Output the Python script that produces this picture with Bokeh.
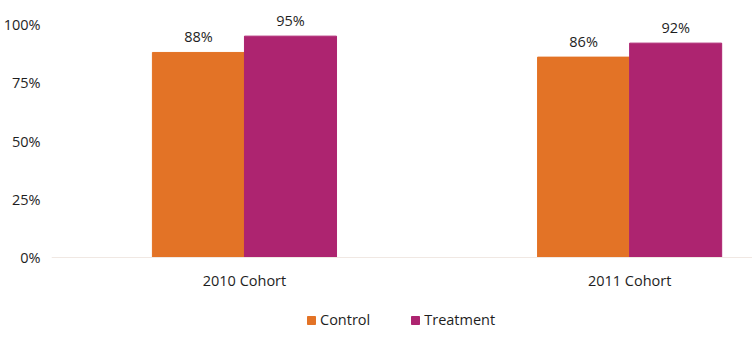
from bokeh.plotting import figure
from bokeh.models import ColumnDataSource, Range1d, FixedTicker, Legend, LegendItem, LabelSet, Span
from bokeh.core.properties import value
from bokeh.transform import dodge
from bokeh.embed import file_html
from bokeh.resources import INLINE

cohorts = ["2010 Cohort", "2011 Cohort"]
control = [88, 86]
treatment = [95, 92]
series_names = ["Control", "Treatment"]
colors = ["#E37326", "#AD2470"]
y_ticks = [0, 25, 50, 75, 100]

idx = list(range(len(cohorts)))
src = ColumnDataSource(dict(
    x=idx,
    cohort=cohorts,
    base=[0] * len(cohorts),
    control=control,
    treatment=treatment,
    control_lbl=[f"{v}%" for v in control],
    treatment_lbl=[f"{v}%" for v in treatment],
))

FONT = "Open Sans"
TXT = "#1E1E1E"
FS = "14.5px"

p = figure(frame_width=701, frame_height=354, output_backend="svg", toolbar_location=None,
           x_range=Range1d(-0.501, 1.319), y_range=Range1d(-41.63, 110.3),
           x_axis_location=None,
           min_border_left=51, min_border_right=0, min_border_top=0, min_border_bottom=0)
p.outline_line_color = None
p.xgrid.visible = False
p.ygrid.visible = False

# baseline at zero
p.add_layout(Span(location=0, dimension="width", line_color="#F0E8E3", line_width=1))

bw = 0.239
r1 = p.vbar(x=dodge("x", -bw / 2, range=p.x_range), top="control", width=bw, source=src,
            fill_color=colors[0], line_color=colors[0])
r2 = p.vbar(x=dodge("x", bw / 2, range=p.x_range), top="treatment", width=bw, source=src,
            fill_color=colors[1], line_color=colors[1])

for col, lbl, off in [("control", "control_lbl", -bw / 2), ("treatment", "treatment_lbl", bw / 2)]:
    ls = LabelSet(x=dodge("x", off, range=p.x_range), y=col, text=lbl, source=src,
                  text_align="center", text_baseline="bottom", y_offset=6,
                  text_font=value(FONT), text_font_size=value(FS), text_color=value(TXT))
    p.add_layout(ls)

# category labels under the baseline
p.add_layout(LabelSet(x="x", y="base", text="cohort", source=src,
                      text_align="center", text_baseline="top", y_offset=-13,
                      text_font=value(FONT), text_font_size=value(FS), text_color=value(TXT)))

p.yaxis.ticker = FixedTicker(ticks=y_ticks)
p.yaxis.major_label_overrides = {t: f"{t}%" for t in y_ticks}
p.yaxis.axis_line_color = None
p.yaxis.major_tick_out = 0
p.yaxis.major_tick_in = 0
p.yaxis.minor_tick_out = 0
p.yaxis.minor_tick_in = 0
p.yaxis.major_label_standoff = 11
p.yaxis.major_label_text_font = FONT
p.yaxis.major_label_text_font_size = FS
p.yaxis.major_label_text_color = TXT

legend = Legend(items=[LegendItem(label=series_names[0], renderers=[r1]),
                       LegendItem(label=series_names[1], renderers=[r2])],
                orientation="horizontal", location=(255, 25),
                glyph_width=10, glyph_height=10, label_standoff=4, spacing=40,
                label_text_font=FONT, label_text_font_size=FS, label_text_color=TXT,
                border_line_color=None, background_fill_alpha=0, margin=0, padding=4)
p.add_layout(legend, "center")

open("out.html", "w").write(file_html(p, INLINE))
